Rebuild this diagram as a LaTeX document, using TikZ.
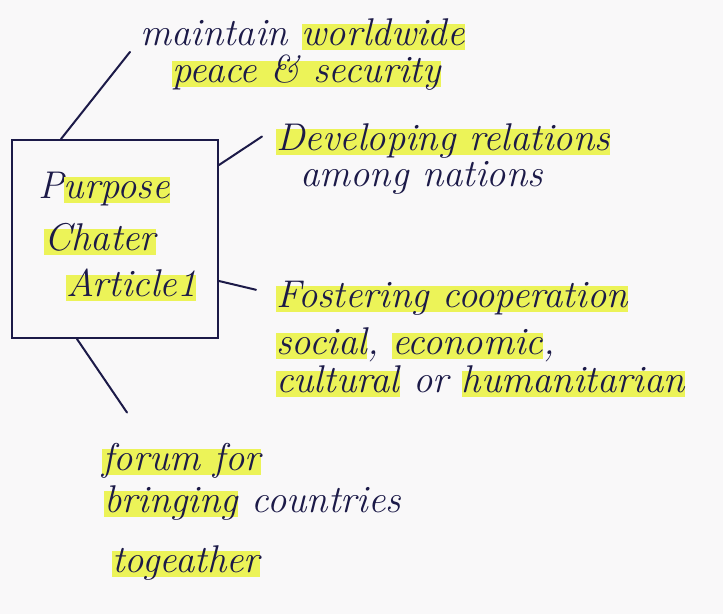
\documentclass[tikz,border=0pt]{standalone}
\usetikzlibrary{calc}
\definecolor{ink}{RGB}{28,26,72}
\definecolor{hly}{RGB}{236,243,88}
\definecolor{paper}{RGB}{249,248,249}
% marker-pen highlight drawn behind a word
\newlength\hlw
\newcommand\hl[1]{\settowidth\hlw{#1}\rlap{\textcolor{hly}{\rule[-0.12em]{\hlw}{0.66em}}}#1}
\tikzset{
  note/.style={anchor=base west, inner sep=0pt, text=ink,
    font=\fontsize{29}{33}\selectfont\itshape},
  link/.style={draw=ink, line width=1.5pt, line cap=round},
  frame/.style={draw=ink, line width=1.5pt, minimum width=154.5pt,
    minimum height=148.5pt, inner sep=0pt}
}
\begin{document}
\begin{tikzpicture}[x=0.75pt,y=-0.75pt]
\useasboundingbox[fill=paper] (0,0) rectangle (723,614);

% central box with its three lines
\node[frame] (box) at (115,239) {};
\node[note] (purpose) at (38,198) {P\hl{urpose}};
\node[note] (chater)  at (44,250) {\hl{Chater}};
\node[note] (article) at (66,296) {\hl{Article1}};

% surrounding notes
\node[note] (mw)  at (140,45)  {maintain \hl{worldwide}};
\node[note] (ps)  at (172,82)  {\hl{peace \& security}};
\node[note] (dev) at (276,150) {\hl{Developing relations}};
\node[note] (am)  at (300,186) {among nations};
\node[note] (fos) at (276,307) {\hl{Fostering cooperation}};
\node[note] (soc) at (276,354) {\hl{social}, \hl{economic},};
\node[note] (cul) at (276,392) {\hl{cultural} or \hl{humanitarian}};
\node[note] (forum) at (102,470) {\hl{forum for}};
\node[note] (bri)   at (104,512) {\hl{bringing} countries};
\node[note] (tog)   at (112,572) {\hl{togeather}};

% connectors from the box to each note
\draw[link] ($(box.north west)+(50,0)$) -- ($(mw.west)+(-10,18)$);
\draw[link] ($(box.north east)+(0,26)$) -- ($(dev.west)+(-14,-4)$);
\draw[link] ($(box.north east)+(0,142)$) -- ($(fos.west)+(-20,-8)$);
\draw[link] ($(box.south west)+(66,0)$) -- ($(forum.north west)+(25,-30)$);
\end{tikzpicture}
\end{document}
